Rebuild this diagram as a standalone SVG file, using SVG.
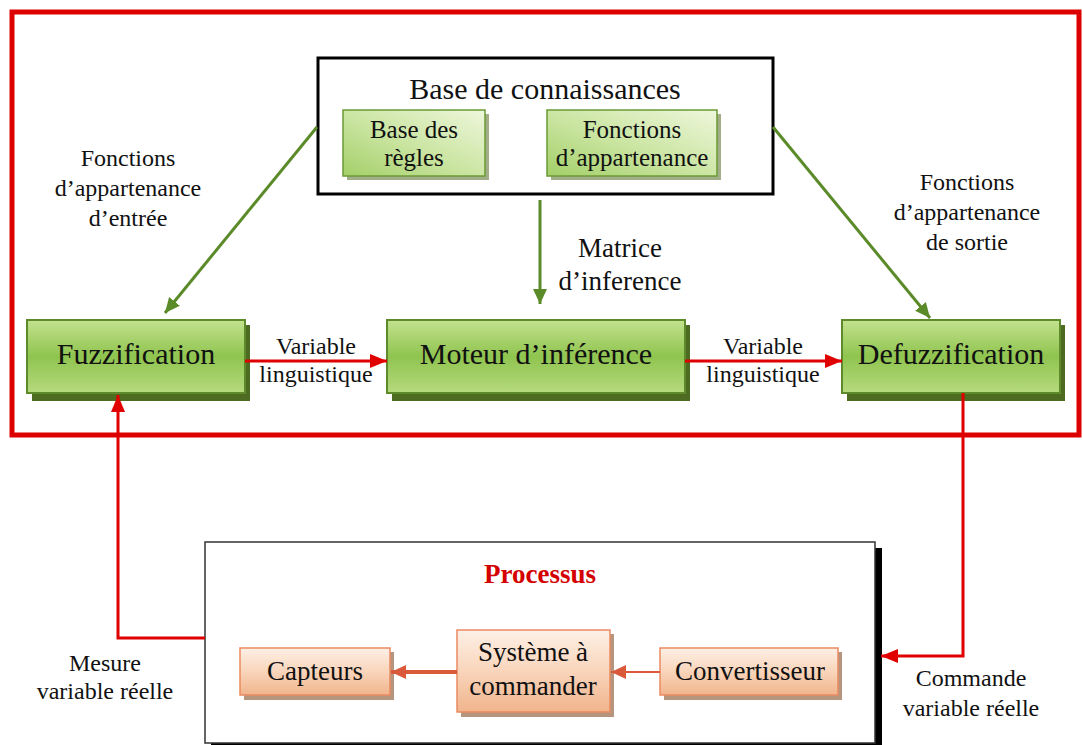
<svg xmlns="http://www.w3.org/2000/svg" width="1083" height="745" viewBox="0 0 1083 745">
  <defs>
    <linearGradient id="gGreen" x1="0" y1="0" x2="0" y2="1">
      <stop offset="0" stop-color="#c3e28e"/>
      <stop offset="0.5" stop-color="#8fc44f"/>
      <stop offset="1" stop-color="#b6da7e"/>
    </linearGradient>
    <linearGradient id="gLight" x1="1" y1="0" x2="0" y2="1">
      <stop offset="0" stop-color="#eef7dc"/>
      <stop offset="0.55" stop-color="#c9e49f"/>
      <stop offset="1" stop-color="#a3cf68"/>
    </linearGradient>
    <linearGradient id="gPeach" x1="0" y1="0" x2="0" y2="1">
      <stop offset="0" stop-color="#fdf0e6"/>
      <stop offset="0.5" stop-color="#f9d5bb"/>
      <stop offset="1" stop-color="#f0b48c"/>
    </linearGradient>
    <marker id="mGreen" markerUnits="userSpaceOnUse" markerWidth="16" markerHeight="16" refX="15" refY="8" orient="auto">
      <path d="M0,1 L15,8 L0,15 z" fill="#5b8a29"/>
    </marker>
    <marker id="mRed" markerUnits="userSpaceOnUse" markerWidth="18" markerHeight="16" refX="17" refY="8" orient="auto">
      <path d="M0,1 L17,8 L0,15 z" fill="#e00000"/>
    </marker>
    <marker id="mOrange" markerUnits="userSpaceOnUse" markerWidth="16" markerHeight="16" refX="15" refY="8" orient="auto">
      <path d="M0,1 L15,8 L0,15 z" fill="#d9593a"/>
    </marker>
    <style>
      text { font-family: "Liberation Serif", "Times New Roman", serif; fill: #111; text-anchor: middle; }
      .big { font-size: 30px; }
      .mid { font-size: 25px; }
      .lbl { font-size: 24px; }
      .mat { font-size: 27px; }
      .low { font-size: 27px; }
      .proc { font-size: 27px; font-weight: bold; fill: #d40000; }
      .gbox { fill: url(#gGreen); stroke: #5e8a2c; stroke-width: 2; }
      .gshadow { fill: #4e6b22; }
      .lbox { fill: url(#gLight); stroke: #6b9a35; stroke-width: 1.5; }
      .lshadow { fill: #8a9a6a; opacity: 0.8; }
      .pbox { fill: url(#gPeach); stroke: #ea8a62; stroke-width: 1.5; }
      .pshadow { fill: #a98268; opacity: 0.85; }
      .green { stroke: #5b8a29; stroke-width: 3; fill: none; marker-end: url(#mGreen); }
      .red { stroke: #e00000; stroke-width: 3; fill: none; marker-end: url(#mRed); }
      .orange { stroke: #d9593a; fill: none; marker-end: url(#mOrange); }
    </style>
  </defs>

  <rect width="1083" height="745" fill="#ffffff"/>

  <!-- fuzzy controller frame -->
  <rect id="controller-frame" x="12" y="12" width="1067" height="423" fill="none" stroke="#dd0000" stroke-width="5"/>

  <!-- knowledge base -->
  <g id="knowledge-base">
    <rect x="318" y="58" width="455" height="136" fill="#ffffff" stroke="#000000" stroke-width="3"/>
    <text class="big" x="545" y="99">Base de connaissances</text>
  </g>
  <g id="base-regles">
    <rect class="lshadow" x="347" y="114" width="142" height="66"/>
    <rect class="lbox" x="343" y="110" width="142" height="66"/>
    <text class="mid" x="414" y="138">Base des</text>
    <text class="mid" x="414" y="166">règles</text>
  </g>
  <g id="fonctions-appartenance">
    <rect class="lshadow" x="551" y="114" width="170" height="66"/>
    <rect class="lbox" x="547" y="110" width="170" height="66"/>
    <text class="mid" x="632" y="138">Fonctions</text>
    <text class="mid" x="632" y="166">d’appartenance</text>
  </g>

  <!-- main chain -->
  <g id="fuzzification">
    <rect class="gshadow" x="32" y="325" width="218" height="76"/>
    <rect class="gbox" x="27" y="320" width="218" height="73"/>
    <text class="big" x="136" y="364">Fuzzification</text>
  </g>
  <g id="moteur-inference">
    <rect class="gshadow" x="392" y="325" width="298" height="76"/>
    <rect class="gbox" x="387" y="320" width="298" height="73"/>
    <text class="big" x="536" y="364">Moteur d’inférence</text>
  </g>
  <g id="defuzzification">
    <rect class="gshadow" x="847" y="325" width="218" height="76"/>
    <rect class="gbox" x="842" y="320" width="218" height="73"/>
    <text class="big" x="951" y="364">Defuzzification</text>
  </g>

  <!-- process -->
  <g id="processus">
    <rect x="211" y="548" width="671" height="200" fill="#000000"/>
    <rect x="205" y="542" width="670" height="201" fill="#ffffff" stroke="#333333" stroke-width="1.5"/>
    <text class="proc" x="540" y="583">Processus</text>
  </g>
  <g id="capteurs">
    <rect class="pshadow" x="244" y="652" width="150" height="48"/>
    <rect class="pbox" x="240" y="648" width="150" height="47"/>
    <text class="low" x="315" y="680">Capteurs</text>
  </g>
  <g id="systeme">
    <rect class="pshadow" x="461" y="634" width="153" height="83"/>
    <rect class="pbox" x="457" y="630" width="153" height="82"/>
    <text class="low" x="533" y="661">Système à</text>
    <text class="low" x="533" y="695">commander</text>
  </g>
  <g id="convertisseur">
    <rect class="pshadow" x="664" y="652" width="178" height="48"/>
    <rect class="pbox" x="660" y="648" width="178" height="47"/>
    <text class="low" x="750" y="680">Convertisseur</text>
  </g>

  <!-- connectors -->
  <g id="connectors">
    <line class="green" x1="317" y1="127" x2="165" y2="313"/>
    <line class="green" x1="773" y1="127" x2="930" y2="318"/>
    <line class="green" x1="540" y1="200" x2="540" y2="304"/>
    <line class="red" x1="245" y1="361" x2="387" y2="361"/>
    <line class="red" x1="685" y1="361" x2="842" y2="361"/>
    <path class="red" d="M963,393 V656 H881"/>
    <path class="red" d="M205,638 H118 V395"/>
    <line class="orange" stroke-width="2" x1="660" y1="672" x2="611" y2="672"/>
    <line class="orange" stroke-width="4" x1="457" y1="672" x2="391" y2="672"/>
  </g>

  <!-- connector labels -->
  <g id="labels">
    <text class="lbl" x="128" y="166">Fonctions</text>
    <text class="lbl" x="128" y="196">d’appartenance</text>
    <text class="lbl" x="128" y="226">d’entrée</text>
    <text class="lbl" x="967" y="190">Fonctions</text>
    <text class="lbl" x="967" y="220">d’appartenance</text>
    <text class="lbl" x="967" y="250">de sortie</text>
    <text class="mat" x="620" y="257">Matrice</text>
    <text class="mat" x="620" y="290">d’inference</text>
    <text class="lbl" x="316" y="354">Variable</text>
    <text class="lbl" x="316" y="382">linguistique</text>
    <text class="lbl" x="763" y="354">Variable</text>
    <text class="lbl" x="763" y="382">linguistique</text>
    <text class="lbl" x="105" y="671">Mesure</text>
    <text class="lbl" x="105" y="699">variable réelle</text>
    <text class="lbl" x="971" y="686">Commande</text>
    <text class="lbl" x="971" y="716">variable réelle</text>
  </g>
</svg>
